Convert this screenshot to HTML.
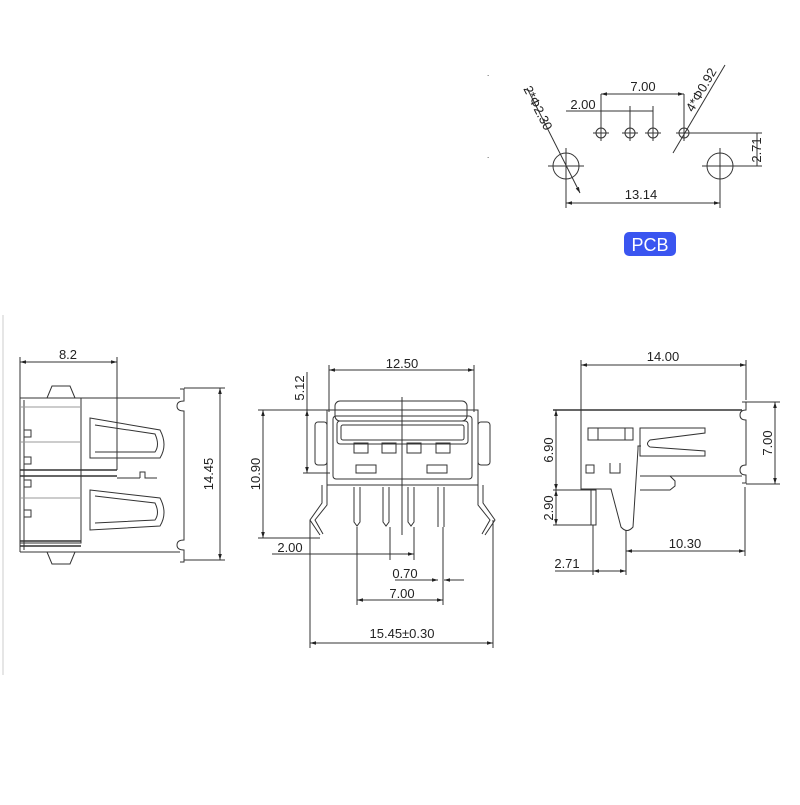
<!DOCTYPE html>
<html><head><style>
body{margin:0;background:#fff;width:800px;height:800px;overflow:hidden}
svg text{font-family:"Liberation Sans",sans-serif;font-size:13px;fill:#222}
</style></head><body>
<svg width="800" height="800" viewBox="0 0 800 800" xmlns="http://www.w3.org/2000/svg">
<defs><marker id="a" viewBox="0 0 10 10" refX="10" refY="5" markerWidth="6" markerHeight="6" orient="auto-start-reverse"><path d="M0,2L10,5L0,8z" fill="#222"/></marker></defs>
<g stroke="#333" stroke-width="1" fill="none">
<line x1="3" y1="315" x2="3" y2="675" stroke="#ccc"/>
<g>
<circle cx="601" cy="133" r="5"/><circle cx="630" cy="133" r="5"/><circle cx="653" cy="133" r="5"/><circle cx="684" cy="133" r="5"/>
<path d="M593,133h16M601,125v16M622,133h16M630,125v16M645,133h16M653,125v16M676,133h16M684,125v16"/>
<circle cx="566" cy="166" r="13"/><circle cx="720" cy="166" r="13"/>
<path d="M548,166h36M566,148v36M702,166h36M720,148v36"/>
<line x1="601" y1="94" x2="601" y2="128"/><line x1="684" y1="94" x2="684" y2="128"/>
<line x1="601" y1="94" x2="684" y2="94" marker-start="url(#a)" marker-end="url(#a)"/>
<line x1="566" y1="111" x2="653" y2="111"/><line x1="630" y1="106" x2="630" y2="128"/><line x1="653" y1="106" x2="653" y2="128"/>
<line x1="566" y1="203" x2="720" y2="203" marker-start="url(#a)" marker-end="url(#a)"/>
<line x1="566" y1="180" x2="566" y2="208"/><line x1="720" y1="180" x2="720" y2="208"/>
<line x1="692" y1="133" x2="762" y2="133"/><line x1="733" y1="166" x2="762" y2="166"/>
<line x1="757" y1="133" x2="757" y2="166"/>
<line x1="527" y1="88" x2="580" y2="193" marker-end="url(#a)"/>
<line x1="725" y1="65" x2="673" y2="153"/>
</g>
<g>
<line x1="20" y1="357" x2="20" y2="552"/><line x1="117" y1="357" x2="117" y2="470"/>
<line x1="20" y1="362" x2="117" y2="362" marker-start="url(#a)" marker-end="url(#a)"/>
<rect x="20" y="398" width="61" height="145"/>
<line x1="20" y1="398" x2="180" y2="398"/><line x1="20" y1="552" x2="180" y2="552"/>
<line x1="81" y1="398" x2="81" y2="470"/><line x1="24" y1="400" x2="24" y2="550"/>
<line x1="20" y1="407" x2="81" y2="407" stroke="#999"/><line x1="20" y1="442" x2="81" y2="442" stroke="#999"/>
<line x1="20" y1="470" x2="117" y2="470" stroke-width="1.6"/><line x1="20" y1="476" x2="117" y2="476" stroke-width="1.6"/>
<line x1="117" y1="478" x2="140" y2="478"/><path d="M140,478v-6h5v6h12"/>
<line x1="20" y1="498" x2="81" y2="498" stroke="#999"/><line x1="20" y1="541" x2="81" y2="541" stroke-width="1.5"/><line x1="20" y1="546" x2="81" y2="546" stroke-width="1.5"/>
<rect x="24" y="430" width="7" height="7"/><rect x="24" y="457" width="7" height="7"/><rect x="24" y="480" width="7" height="7"/><rect x="24" y="510" width="7" height="7"/>
<path d="M47,398l5,-12h18l5,12M47,552l5,12h18l5,-12"/>
<path d="M90,418L160,430Q168,445 160,458L90,458Z"/>
<path d="M95,425L155,434Q160,445 155,452L95,452" />
<path d="M90,490L160,498Q168,513 160,526L90,530Z"/>
<path d="M95,496L155,503Q160,513 155,520L95,523"/>
<path d="M180,389h4v12q-7,0 -7,5t7,5v129q-7,0 -7,5t7,5v12h-4"/>
<line x1="184" y1="388" x2="225" y2="388"/><line x1="184" y1="560" x2="225" y2="560"/>
<line x1="220" y1="388" x2="220" y2="560" marker-start="url(#a)" marker-end="url(#a)"/>
</g>
<g>
<line x1="329" y1="365" x2="329" y2="412"/><line x1="474" y1="365" x2="474" y2="412"/>
<line x1="329" y1="370" x2="474" y2="370" marker-start="url(#a)" marker-end="url(#a)"/>
<line x1="402" y1="397" x2="402" y2="535"/>
<rect x="335" y="401" width="132" height="20" rx="5"/>
<rect x="327" y="410" width="151" height="75"/>
<rect x="333" y="416" width="139" height="63" rx="3"/>
<rect x="337" y="421" width="131" height="23" rx="3"/>
<rect x="341" y="425" width="123" height="15" rx="2"/>
<rect x="354" y="443" width="14" height="10"/><rect x="382" y="443" width="14" height="10"/><rect x="407" y="443" width="14" height="10"/><rect x="436" y="443" width="14" height="10"/>
<rect x="356" y="465" width="20" height="8"/><rect x="427" y="465" width="20" height="8"/>
<rect x="315" y="422" width="12" height="43" rx="3"/><rect x="478" y="422" width="12" height="43" rx="3"/>
<path d="M354,487v35l3,4l3,-4v-35M383,487v35l3,4l3,-4v-35M408,487v35l3,4l3,-4v-35M438,487v40M444,487v40"/>
<path d="M327,485v20l-12,15l8,14M322,485v18l-12,17l10,15M478,485v20l12,15l-8,14M483,485v18l12,17l-10,15"/>
<line x1="258" y1="410" x2="327" y2="410"/><line x1="258" y1="538" x2="320" y2="538"/>
<line x1="263" y1="410" x2="263" y2="538" marker-start="url(#a)" marker-end="url(#a)"/>
<line x1="307" y1="410" x2="307" y2="473" marker-start="url(#a)" marker-end="url(#a)"/>
<line x1="303" y1="473" x2="330" y2="473"/><line x1="307" y1="372" x2="307" y2="410"/>
<line x1="272" y1="554" x2="410" y2="554"/>
<line x1="390" y1="527" x2="390" y2="560"/><line x1="414" y1="527" x2="414" y2="560"/>
<line x1="385" y1="554" x2="414" y2="554" marker-end="url(#a)"/>
<line x1="395" y1="580" x2="438" y2="580" marker-end="url(#a)"/><line x1="464" y1="580" x2="444" y2="580" marker-end="url(#a)"/>
<line x1="357" y1="527" x2="357" y2="605"/><line x1="443" y1="527" x2="443" y2="605"/>
<line x1="357" y1="600" x2="443" y2="600" marker-start="url(#a)" marker-end="url(#a)"/>
<line x1="310" y1="520" x2="310" y2="648"/><line x1="493" y1="520" x2="493" y2="648"/>
<line x1="310" y1="643" x2="493" y2="643" marker-start="url(#a)" marker-end="url(#a)"/>
</g>
<g>
<line x1="581" y1="360" x2="581" y2="490"/><line x1="746" y1="360" x2="746" y2="400"/>
<line x1="581" y1="365" x2="746" y2="365" marker-start="url(#a)" marker-end="url(#a)"/>
<line x1="553" y1="410" x2="742" y2="410" stroke-width="1.4"/>
<path d="M581,410v79h30l10,38q6,7 12,0l5,-78v-3h3"/>
<line x1="640" y1="476" x2="742" y2="476"/>
<path d="M640,476h30l5,5v5l-5,4h-30"/>
<path d="M742,402h4v8q-6,0 -6,5t6,5v45q-6,0 -6,5t6,5v8h-4"/>
<line x1="746" y1="402" x2="780" y2="402"/><line x1="746" y1="484" x2="780" y2="484"/>
<line x1="775" y1="402" x2="775" y2="484" marker-start="url(#a)" marker-end="url(#a)"/>
<rect x="588" y="428" width="45" height="12"/><line x1="598" y1="428" x2="598" y2="440"/><line x1="625" y1="428" x2="625" y2="440"/>
<path d="M640,428h65v5l-55,7q-5,4 0,7l55,4v5h-65z"/>
<rect x="586" y="465" width="8" height="8"/><path d="M610,463v10h10v-10"/>
<rect x="591" y="490" width="5" height="35"/>
<line x1="553" y1="490" x2="591" y2="490"/><line x1="553" y1="525" x2="595" y2="525"/>
<line x1="556" y1="410" x2="556" y2="490" marker-start="url(#a)" marker-end="url(#a)"/>
<line x1="556" y1="490" x2="556" y2="525" marker-start="url(#a)" marker-end="url(#a)"/>
<line x1="626" y1="530" x2="626" y2="575"/><line x1="745" y1="487" x2="745" y2="556"/>
<line x1="626" y1="551" x2="745" y2="551" marker-start="url(#a)" marker-end="url(#a)"/>
<line x1="593" y1="525" x2="593" y2="575"/>
<line x1="555" y1="571" x2="593" y2="571"/>
<line x1="593" y1="571" x2="626" y2="571" marker-start="url(#a)" marker-end="url(#a)"/>
</g>
</g>
<text x="643" y="91" text-anchor="middle">7.00</text>
<text x="583" y="109" text-anchor="middle">2.00</text>
<text x="641" y="199" text-anchor="middle">13.14</text>
<text transform="translate(761,150) rotate(-90)" text-anchor="middle">2.71</text>
<text transform="translate(534,110) rotate(63)" text-anchor="middle">2*Φ2.30</text>
<text transform="translate(705,92) rotate(-60)" text-anchor="middle">4*Φ0.92</text>
<rect x="624" y="232" width="52" height="24" rx="5" fill="#3a55f0"/>
<text x="650" y="251" text-anchor="middle" style="font-size:18px;fill:#fff">PCB</text>
<text x="68" y="359" text-anchor="middle">8.2</text>
<text transform="translate(213,474) rotate(-90)" text-anchor="middle">14.45</text>
<text x="402" y="368" text-anchor="middle">12.50</text>
<text transform="translate(260,474) rotate(-90)" text-anchor="middle">10.90</text>
<text transform="translate(304,388) rotate(-90)" text-anchor="middle">5.12</text>
<text x="290" y="552" text-anchor="middle">2.00</text>
<text x="405" y="578" text-anchor="middle">0.70</text>
<text x="402" y="598" text-anchor="middle">7.00</text>
<text x="402" y="638" text-anchor="middle">15.45±0.30</text>
<text x="663" y="361" text-anchor="middle">14.00</text>
<text transform="translate(772,443) rotate(-90)" text-anchor="middle">7.00</text>
<text transform="translate(553,450) rotate(-90)" text-anchor="middle">6.90</text>
<text transform="translate(553,508) rotate(-90)" text-anchor="middle">2.90</text>
<text x="685" y="548" text-anchor="middle">10.30</text>
<text x="567" y="568" text-anchor="middle">2.71</text>
<text x="487" y="76" style="font-size:8px">.</text>
<text x="487" y="158" style="font-size:8px">.</text>
</svg>
</body></html>
